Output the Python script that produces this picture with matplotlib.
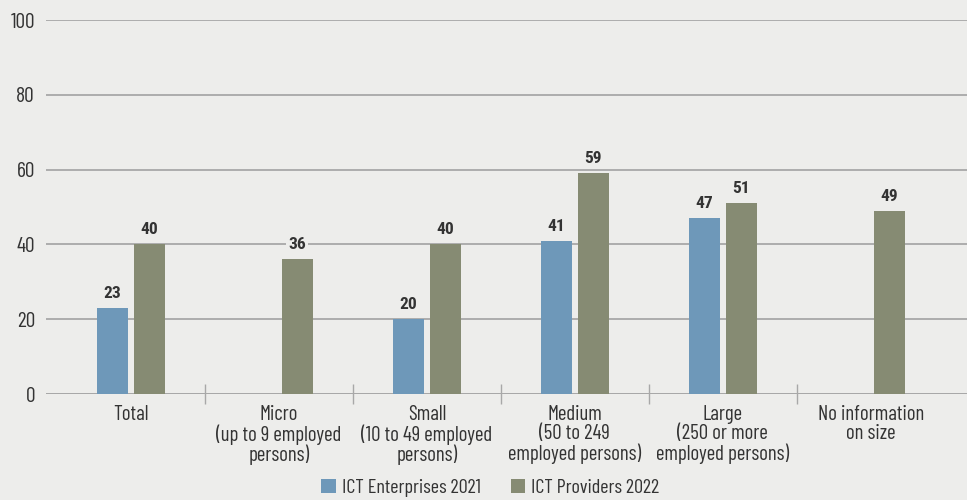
import numpy as np
import matplotlib.pyplot as plt
from matplotlib import font_manager
from matplotlib.ticker import FixedLocator

available = {f.name for f in font_manager.fontManager.ttflist}
for fam in ['Barlow Condensed', 'Roboto Condensed', 'Liberation Sans Narrow', 'DejaVu Sans']:
    if fam in available:
        break
for bold_fam in ['Roboto Condensed', fam]:
    if bold_fam in available:
        break
plt.rcParams['font.family'] = [fam, 'DejaVu Sans']

categories = ['Total', 'Micro\n(up to 9 employed\npersons)', 'Small\n(10 to 49 employed\npersons)',
              'Medium\n(50 to 249\nemployed persons)', 'Large\n(250 or more\nemployed persons)',
              'No information\non size']
enterprises_2021 = [23, np.nan, 20, 41, 47, np.nan]
providers_2022 = [40, 36, 40, 59, 51, 49]
series_names = ['ICT Enterprises 2021', 'ICT Providers 2022']

bg = '#ededeb'
blue = '#6e98b9'
green = '#868b73'
grid_c = '#a8a8a8'
text_c = '#333333'

fig = plt.figure(figsize=(9.67, 5), dpi=100, facecolor=bg)
ax = fig.add_axes([46 / 967, 0.212, 1 - 46 / 967, 0.748])
ax.set_facecolor(bg)

x = np.arange(len(categories))
w = 0.21
off = 0.125
b1 = ax.bar(x - off, enterprises_2021, w, color=blue, label=series_names[0], zorder=3)
b2 = ax.bar(x + off, providers_2022, w, color=green, label=series_names[1], zorder=3)

for bars, vals in [(b1, enterprises_2021), (b2, providers_2022)]:
    for rect, v in zip(bars, vals):
        if np.isnan(v):
            continue
        ax.annotate(f'{v:.0f}', (rect.get_x() + rect.get_width() / 2, v),
                    xytext=(0, 5), textcoords='offset points', ha='center', va='bottom',
                    fontsize=12.5, fontweight='bold', family=[bold_fam, 'DejaVu Sans'],
                    color=text_c, zorder=4,
                    bbox=dict(facecolor=bg, edgecolor='none', pad=1.5))

ax.set_ylim(0, 100)
ax.set_xlim(-0.574, 5.65)
ax.set_yticks(range(0, 101, 20))
ax.yaxis.grid(True, color=grid_c, linewidth=1.3, zorder=0)
ax.set_axisbelow(True)
for s in ['top', 'right', 'left', 'bottom']:
    ax.spines[s].set_visible(False)
ax.axhline(0, color=grid_c, linewidth=2, zorder=2)

ax.set_xticks(x)
ax.set_xticklabels(categories, fontsize=15, color=text_c, linespacing=1.0)
ax.tick_params(axis='x', which='major', length=0, pad=8)
ax.xaxis.set_minor_locator(FixedLocator(x[:-1] + 0.5))
ax.tick_params(axis='x', which='minor', length=15, direction='inout', color=grid_c, width=1)
ax.tick_params(axis='y', length=0, labelsize=15.5, labelcolor=text_c, pad=8)

fig.legend(handles=[b1, b2], loc='lower center', bbox_to_anchor=(0.507, -0.03), ncol=2,
           frameon=False, fontsize=14.5, handlelength=0.7, handleheight=0.7,
           handletextpad=0.3, columnspacing=1.5, labelcolor=text_c)

fig.savefig('out.png', dpi=100, facecolor=bg)
